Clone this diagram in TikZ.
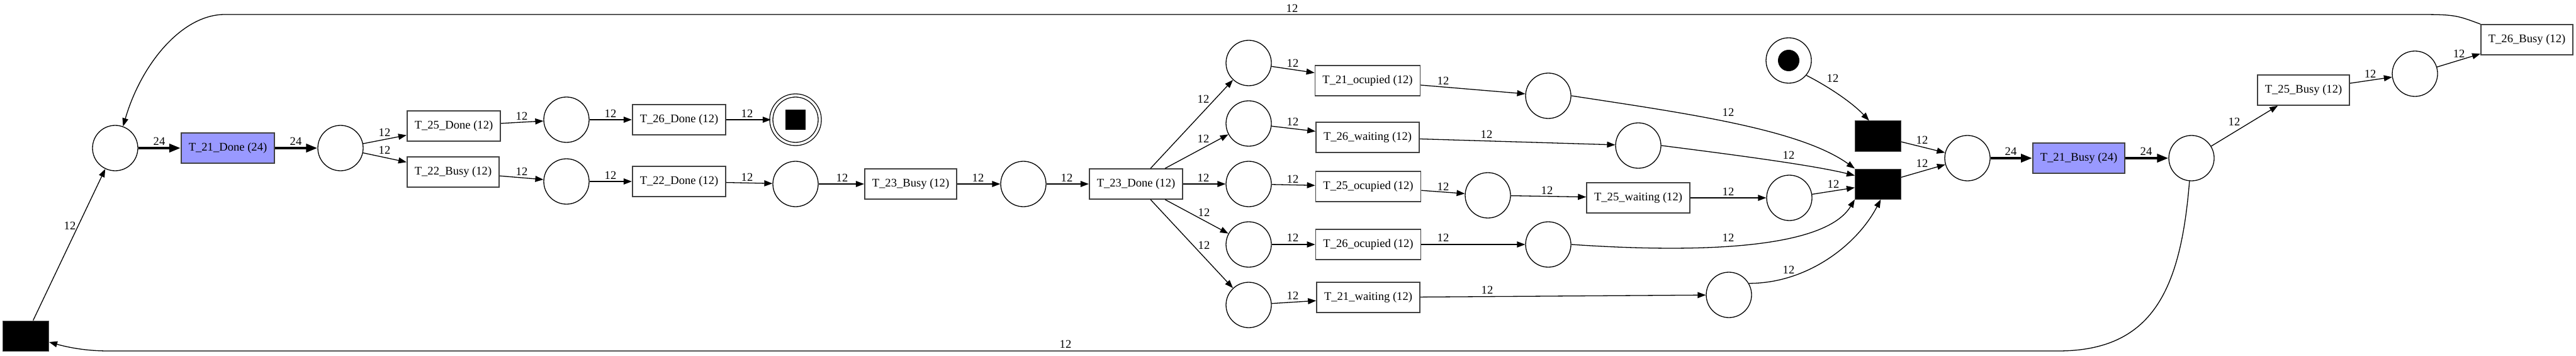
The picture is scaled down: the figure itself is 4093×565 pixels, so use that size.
\documentclass[tikz,border=0pt]{standalone}
\usepackage{fontspec}
\setmainfont{Liberation Serif}
\usetikzlibrary{arrows.meta}
\definecolor{lav}{RGB}{153,153,255}
\newcommand\gvfont{\fontsize{18.67}{22}\selectfont}
\tikzset{
  place/.style={circle, draw=black, line width=1.3bp, minimum size=72bp, inner sep=0pt},
  trans/.style={rectangle, draw=black!75, line width=1.6bp, minimum height=48bp, inner xsep=12bp, font=\gvfont},
  busy/.style={trans, fill=lav},
  blk/.style={rectangle, fill=black, draw=black!70, line width=1bp, minimum width=73bp, minimum height=48bp},
  arc/.style={-{Triangle[length=13bp,width=9.5bp]}, line width=1.3bp},
  boldarc/.style={-{Triangle[length=18bp,width=13bp]}, line width=4bp},
  lbl/.style={font=\gvfont, inner sep=0pt}
}
\begin{document}
\begin{tikzpicture}[x=1bp, y=-1bp]
\useasboundingbox (0,0) rectangle (4093,565);
% places and transitions
\node[blk] (blk) at (41,533) {};
\node[place] (pleft) at (183,235) {};
\node[busy] (t21done) at (362,235) {T\_21\_Done (24)};
\node[place] (p2) at (541,235) {};
\node[trans] (t25done) at (721,200) {T\_25\_Done (12)};
\node[trans] (t22busy) at (720,273) {T\_22\_Busy (12)};
\node[place] (pa) at (900,190) {};
\node[place] (pb) at (900,288) {};
\node[trans] (t26done) at (1079,190) {T\_26\_Done (12)};
\node[trans] (t22done) at (1079,288) {T\_22\_Done (12)};
\node[circle, draw=black, double, double distance=3.7bp, line width=1.3bp, minimum size=77bp, inner sep=0pt] (final) at (1264,190) {};
\node[rectangle, fill=black, minimum size=32bp, inner sep=0pt] (finaltok) at (final.center) {};
\node[place] (pc) at (1264,292) {};
\node[trans] (t23busy) at (1447,292) {T\_23\_Busy (12)};
\node[place] (pd) at (1626,292) {};
\node[trans] (t23done) at (1805,292) {T\_23\_Done (12)};
\node[place] (q1) at (1984,100) {};
\node[place] (q2) at (1984,196) {};
\node[place] (q3) at (1984,292) {};
\node[place] (q4) at (1984,388) {};
\node[place] (q5) at (1984,484) {};
\node[trans] (t21ocu) at (2173,128) {T\_21\_ocupied (12)};
\node[trans] (t26wait) at (2173,218) {T\_26\_waiting (12)};
\node[trans] (t25ocu) at (2174,296) {T\_25\_ocupied (12)};
\node[trans] (t26ocu) at (2174,388) {T\_26\_ocupied (12)};
\node[trans] (t21wait) at (2174,472) {T\_21\_waiting (12)};
\node[place] (r1) at (2460,152) {};
\node[place] (r2) at (2603,231) {};
\node[place] (r3) at (2364,310) {};
\node[trans] (t25wait) at (2603,314) {T\_25\_waiting (12)};
\node[place] (r4) at (2843,314) {};
\node[place] (r5) at (2460,388) {};
\node[place] (r6) at (2747,468) {};
\node[place] (token) at (2842,96) {};
\node[circle, fill=black, minimum size=34bp, inner sep=0pt] (tokdot) at (token.center) {};
\node[blk] (bt1) at (2984,216) {};
\node[blk] (bt2) at (2984,292) {};
\node[place] (s1) at (3126,251) {};
\node[busy] (t21busy) at (3303,251) {T\_21\_Busy (24)};
\node[place] (s2) at (3482,251) {};
\node[trans] (t25busy) at (3660,143) {T\_25\_Busy (12)};
\node[place] (s3) at (3837,117) {};
\node[trans] (t26busy) at (4015,63) {T\_26\_Busy (12)};
% arcs
\draw[arc] (blk) -- (pleft) node[lbl] at (111,358) {12};
\draw[boldarc] (pleft) -- (t21done) node[lbl] at (253,224) {24};
\draw[boldarc] (t21done) -- (p2) node[lbl] at (470,224) {24};
\draw[arc] (p2) -- (t25done) node[lbl] at (611,210) {12};
\draw[arc] (p2) -- (t22busy) node[lbl] at (611,238) {12};
\draw[arc] (t25done) -- (pa) node[lbl] at (829,184) {12};
\draw[arc] (pa) -- (t26done) node[lbl] at (970,180) {12};
\draw[arc] (t26done) -- (final) node[lbl] at (1187,180) {12};
\draw[arc] (t22busy) -- (pb) node[lbl] at (829,272) {12};
\draw[arc] (pb) -- (t22done) node[lbl] at (970,278) {12};
\draw[arc] (t22done) -- (pc) node[lbl] at (1187,281) {12};
\draw[arc] (pc) -- (t23busy) node[lbl] at (1338,282) {12};
\draw[arc] (t23busy) -- (pd) node[lbl] at (1554,282) {12};
\draw[arc] (pd) -- (t23done) node[lbl] at (1695,282) {12};
\draw[arc] (t23done) -- (q1) node[lbl] at (1912,157) {12};
\draw[arc] (t23done) -- (q2) node[lbl] at (1912,220) {12};
\draw[arc] (t23done) -- (q3) node[lbl] at (1912,282) {12};
\draw[arc] (t23done) -- (q4) node[lbl] at (1913,337) {12};
\draw[arc] (t23done) -- (q5) node[lbl] at (1913,389) {12};
\draw[arc] (q1) -- (t21ocu) node[lbl] at (2054,100) {12};
\draw[arc] (q2) -- (t26wait) node[lbl] at (2054,193) {12};
\draw[arc] (q3) -- (t25ocu) node[lbl] at (2054,284) {12};
\draw[arc] (q4) -- (t26ocu) node[lbl] at (2054,377) {12};
\draw[arc] (q5) -- (t21wait) node[lbl] at (2054,469) {12};
\draw[arc] (t21ocu) -- (r1) node[lbl] at (2293,128) {12};
\draw[arc] (t26wait) -- (r2) node[lbl] at (2362,213) {12};
\draw[arc] (t25ocu) -- (r3) node[lbl] at (2293,296) {12};
\draw[arc] (r3) -- (t25wait) node[lbl] at (2458,302) {12};
\draw[arc] (t26ocu) -- (r5) node[lbl] at (2293,377) {12};
\draw[arc] (t21wait) -- (r6) node[lbl] at (2363,460) {12};
\draw[arc] (t25wait) -- (r4) node[lbl] at (2746,304) {12};
\draw[arc] (r4) -- (bt2) node[lbl] at (2913,292) {12};
\draw[arc] (r1.east) .. controls (2680,180) and (2860,205) .. (bt2.north west) node[lbl] at (2746,178) {12};
\draw[arc] (r2.east) .. controls (2750,245) and (2880,262) .. (bt2.160) node[lbl] at (2842,246) {12};
\draw[arc] (r5.east) .. controls (2700,402) and (2900,395) .. (bt2.south west) node[lbl] at (2746,377) {12};
\draw[arc] (r6.30) .. controls (2870,450) and (2950,390) .. (bt2.-80) node[lbl] at (2842,428) {12};
\draw[arc] (token.-40) .. controls (2910,140) and (2945,165) .. (bt1.120) node[lbl] at (2912,124) {12};
\draw[arc] (bt1) -- (s1) node[lbl] at (3054,222) {12};
\draw[arc] (bt2) -- (s1) node[lbl] at (3054,259) {12};
\draw[boldarc] (s1) -- (t21busy) node[lbl] at (3195,240) {24};
\draw[boldarc] (t21busy) -- (s2) node[lbl] at (3410,240) {24};
\draw[arc] (s2) -- (t25busy) node[lbl] at (3550,193) {12};
\draw[arc] (t25busy) -- (s3) node[lbl] at (3766,117) {12};
\draw[arc] (s3) -- (t26busy) node[lbl] at (3907,85) {12};
\draw[arc] (t26busy.north west) .. controls (3900,23) .. (3830,23) -- (357,23) .. controls (290,23) and (225,100) .. (pleft.70) node[lbl] at (2053,13) {12};
\draw[arc] (s2.265) .. controls (3465,460) and (3420,557) .. (3270,557) -- (172,557) .. controls (130,557) and (100,549) .. (blk.-15) node[lbl] at (1693,546) {12};
\end{tikzpicture}
\end{document}
